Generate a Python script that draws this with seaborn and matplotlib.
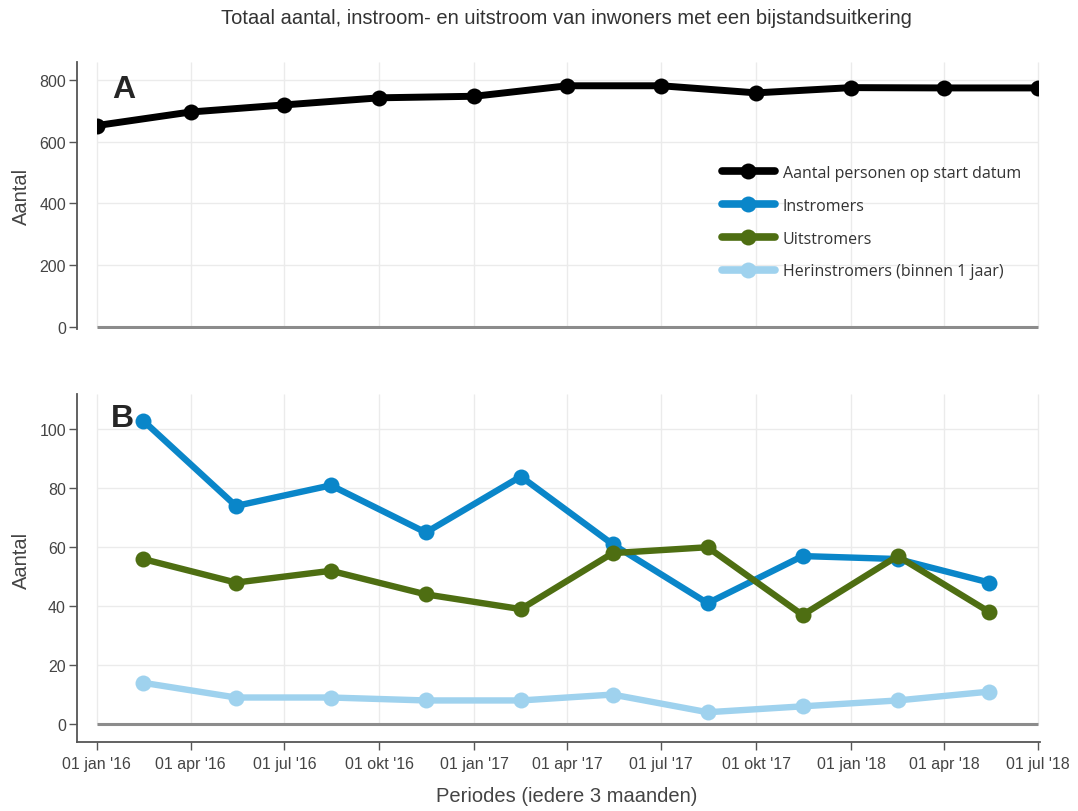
import matplotlib
matplotlib.use("Agg")
import matplotlib.pyplot as plt
import matplotlib.dates as mdates
from matplotlib.patches import Rectangle
import numpy as np
import pandas as pd
import seaborn as sns

# Quarterly start dates and the stock of people on benefits at each date
start_dates = ["2016-01-01", "2016-04-01", "2016-07-01", "2016-10-01", "2017-01-01",
               "2017-04-01", "2017-07-01", "2017-10-01", "2018-01-01", "2018-04-01",
               "2018-07-01"]
aantal_personen = [652, 696, 719, 742, 747, 781, 781, 758, 775, 774, 774]

# Flows per quarter, plotted at the middle of each quarter
mid_dates = ["2016-02-15", "2016-05-15", "2016-08-15", "2016-11-15", "2017-02-15",
             "2017-05-15", "2017-08-15", "2017-11-15", "2018-02-15", "2018-05-15"]
instromers = [103, 74, 81, 65, 84, 61, 41, 57, 56, 48]
uitstromers = [56, 48, 52, 44, 39, 58, 60, 37, 57, 38]
herinstromers = [14, 9, 9, 8, 8, 10, 4, 6, 8, 11]

tick_labels = ["01 jan '16", "01 apr '16", "01 jul '16", "01 okt '16", "01 jan '17",
               "01 apr '17", "01 jul '17", "01 okt '17", "01 jan '18", "01 apr '18",
               "01 jul '18"]

series_names = ["Aantal personen op start datum", "Instromers", "Uitstromers",
                "Herinstromers (binnen 1 jaar)"]
series_colors = ["#000000", "#0a86c9", "#4e6e12", "#9fd2ee"]

sns.set_style("white")
plt.rcParams["font.family"] = ["Liberation Sans", "DejaVu Sans"]

df_stock = pd.DataFrame({"datum": pd.to_datetime(start_dates), "aantal": aantal_personen})
df_flow = pd.DataFrame({
    "datum": np.tile(pd.to_datetime(mid_dates), 3),
    "aantal": instromers + uitstromers + herinstromers,
    "reeks": np.repeat(series_names[1:], len(mid_dates)),
})

fig = plt.figure(figsize=(10.78, 8.12), dpi=100)
W, H = 1078, 812
ax1 = fig.add_axes([77 / W, 1 - 330 / H, (1040 - 77) / W, (330 - 63) / H])
ax2 = fig.add_axes([77 / W, 1 - 743 / H, (1040 - 77) / W, (743 - 395) / H])

ticks = pd.to_datetime(start_dates)
x0, x1 = ticks[0], ticks[-1]
xlim = (pd.Timestamp("2015-12-13"), pd.Timestamp("2018-07-03"))

grid_c = "#ebebeb"
axis_c = "#555555"
text_c = "#444444"
tick_fs = 11.5
label_fs = 14.5


def style_axis(ax, ylim, yticks):
    ax.set_xlim(*xlim)
    ax.set_ylim(*ylim)
    ax.vlines(ticks, 0, ylim[1], color=grid_c, lw=1, zorder=0)
    ax.hlines(yticks, x0, x1, color=grid_c, lw=1, zorder=0)
    ax.hlines(0, x0, x1, color="#8c8c8c", lw=2.2, zorder=1)
    for s in ["top", "right"]:
        ax.spines[s].set_visible(False)
    ax.spines["left"].set_color(axis_c)
    ax.spines["left"].set_linewidth(1.3)
    ax.set_yticks(yticks)
    ax.tick_params(axis="y", length=6, width=1, color=axis_c, labelcolor=text_c,
                   labelsize=tick_fs, pad=2, left=True)
    # data lines are clipped to the period range, not the whole axes box
    clip = Rectangle((mdates.date2num(x0), ylim[0]),
                     mdates.date2num(x1) - mdates.date2num(x0), ylim[1] - ylim[0],
                     transform=ax.transData, visible=False)
    ax.add_patch(clip)
    for ln in ax.lines:
        ln.set_clip_path(clip)


# Panel A: stock
sns.lineplot(data=df_stock, x="datum", y="aantal", ax=ax1, color=series_colors[0],
             linewidth=5, marker="o", markersize=11.5, markeredgewidth=0,
             legend=False, zorder=3)
style_axis(ax1, (-7, 858), [0, 200, 400, 600, 800])
ax1.spines["bottom"].set_visible(False)
ax1.set_xticks([])
ax1.set_xlabel("")
ax1.set_ylabel("Aantal", fontsize=label_fs, color=text_c, va="center")
ax1.yaxis.set_label_coords(-0.058, 0.5)

# Panel B: flows
sns.lineplot(data=df_flow, x="datum", y="aantal", hue="reeks", hue_order=series_names[1:],
             palette=series_colors[1:], ax=ax2, linewidth=4.6, marker="o", markersize=11.5,
             markeredgewidth=0, legend=False, zorder=3)
style_axis(ax2, (-6.1, 112), [0, 20, 40, 60, 80, 100])
ax2.spines["bottom"].set_color(axis_c)
ax2.spines["bottom"].set_linewidth(1.3)
ax2.set_xticks(ticks)
ax2.set_xticklabels(tick_labels)
ax2.tick_params(axis="x", length=6, width=1, color=axis_c, labelcolor=text_c,
                labelsize=tick_fs, pad=4, bottom=True)
ax2.set_ylabel("Aantal", fontsize=label_fs, color=text_c, va="center")
ax2.yaxis.set_label_coords(-0.058, 0.526)
ax2.set_xlabel("Periodes (iedere 3 maanden)", fontsize=label_fs, color=text_c, va="center")
ax2.xaxis.set_label_coords(0.509, -0.155)

# Panel letters
ax1.text(0.049, 0.9, "A", transform=ax1.transAxes, fontsize=23, fontweight="bold",
         ha="center", va="center")
ax2.text(0.047, 0.93, "B", transform=ax2.transAxes, fontsize=23, fontweight="bold",
         ha="center", va="center")

# Shared legend in panel A
handles = [plt.Line2D([], [], color=c, lw=5.5, marker="o", markersize=11.5,
                      markeredgewidth=0) for c in series_colors]
leg = ax1.legend(handles, series_names, loc="upper left", frameon=False,
                 bbox_to_anchor=(722 / W, 1 - 166 / H), bbox_transform=fig.transFigure,
                 borderpad=0, borderaxespad=0, handlelength=3.3, handletextpad=0.5,
                 labelspacing=1.05, prop={"family": "Open Sans", "size": 11.5})
for t in leg.get_texts():
    t.set_color("#333333")

fig.text(566 / W, 1 - 18 / H,
         "Totaal aantal, instroom- en uitstroom van inwoners met een bijstandsuitkering",
         ha="center", va="center", fontsize=14.5, color="#333333")

fig.savefig("out.png", dpi=100)
